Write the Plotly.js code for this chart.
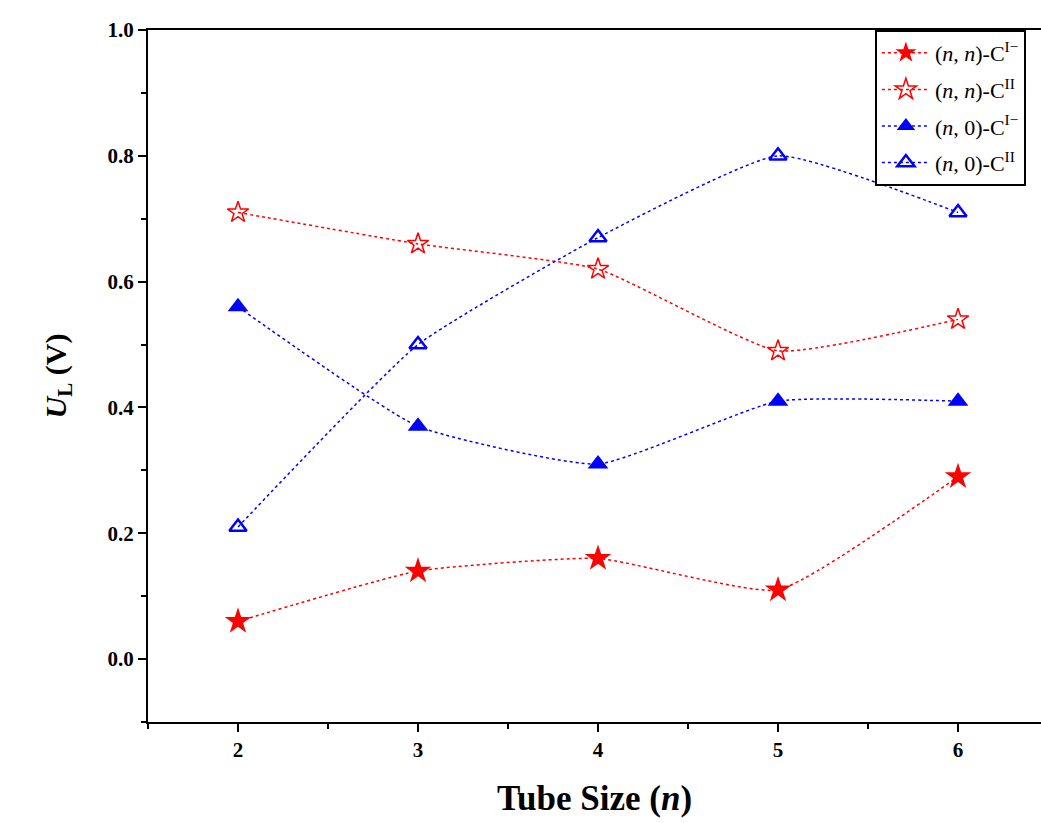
<!DOCTYPE html>
<html>
<head>
<meta charset="utf-8">
<script src="https://cdn.plot.ly/plotly-3.0.1.min.js"></script>
<style>html,body{margin:0;padding:0;background:#fff;}</style>
</head>
<body>
<div id="chart" style="width:1041px;height:823px;"></div>
<script>
const tubeSize = [2, 3, 4, 5, 6];
const nnC1 = [0.06, 0.14, 0.16, 0.11, 0.29];
const nnC2 = [0.71, 0.66, 0.62, 0.49, 0.54];
const n0C1 = [0.56, 0.37, 0.31, 0.41, 0.41];
const n0C2 = [0.21, 0.50, 0.67, 0.80, 0.71];
const seriesNames = [
  "(<i>n</i>, <i>n</i>)-C<sup>I−</sup>",
  "(<i>n</i>, <i>n</i>)-C<sup>II</sup>",
  "(<i>n</i>, 0)-C<sup>I−</sup>",
  "(<i>n</i>, 0)-C<sup>II</sup>"
];
const red = "#ff0000", blue = "#0000ff";

function tr(y, name, color, symbol, msize, mline, grp) {
  return {
    x: tubeSize, y: y, name: name, legendgroup: grp, type: "scatter", mode: "lines+markers",
    line: {color: color, width: 1.5, dash: "dot", shape: "spline", smoothing: 0.45},
    marker: {color: color, symbol: symbol, size: msize, line: {color: color, width: mline}}
  };
}
const data = [
  tr(nnC1, seriesNames[0], red, "star", 20, 0, "g1"),
  tr(nnC2, seriesNames[1], red, "star-open", 16, 1.5, "g2"),
  tr(n0C1, seriesNames[2], blue, "triangle-up", 18, 0, "g3"),
  tr(n0C2, seriesNames[3], blue, "triangle-up-open", 15, 2.5, "g4")
];
const font = {family: "'Liberation Serif', 'Times New Roman', serif", color: "#000"};
const layout = {
  width: 1041, height: 823,
  margin: {l: 148, r: 0, t: 30, b: 101},
  paper_bgcolor: "#fff", plot_bgcolor: "#fff",
  font: font,
  showlegend: true,
  legend: {
    x: 0.814, xanchor: "left", y: 1, yanchor: "top",
    bgcolor: "#fff", bordercolor: "#000", borderwidth: 2,
    font: {family: font.family, size: 22, color: "#000"},
    tracegroupgap: 5, itemwidth: 48
  },
  xaxis: {
    range: [1.5, 6.461], tick0: 2, dtick: 1,
    showgrid: false, zeroline: false,
    showline: true, linecolor: "#000", linewidth: 2, mirror: true,
    ticks: "outside", ticklen: 8, tickwidth: 2, tickcolor: "#000",
    minor: {tick0: 1.5, dtick: 0.5, ticks: "outside", ticklen: 5, tickwidth: 2, tickcolor: "#000", showgrid: false},
    tickfont: {family: font.family, size: 21, color: "#000", weight: "bold"},
    title: {text: "<b>Tube Size (<i>n</i>)</b>", font: {family: font.family, size: 35, color: "#000"}, standoff: 24}
  },
  yaxis: {
    range: [-0.1, 1.0], tick0: 0, dtick: 0.2, tickformat: ".1f",
    showgrid: false, zeroline: false,
    showline: true, linecolor: "#000", linewidth: 2, mirror: false,
    ticks: "outside", ticklen: 8, tickwidth: 2, tickcolor: "#000",
    minor: {tick0: 0, dtick: 0.1, ticks: "outside", ticklen: 5, tickwidth: 2, tickcolor: "#000", showgrid: false},
    tickfont: {family: font.family, size: 21, color: "#000", weight: "bold"},
    title: {text: "<b><i>U</i><sub>L</sub> (V)</b>", font: {family: font.family, size: 30, color: "#000"}, standoff: 32}
  }
};
Plotly.newPlot("chart", data, layout, {displayModeBar: false, responsive: false});
</script>
</body>
</html>
